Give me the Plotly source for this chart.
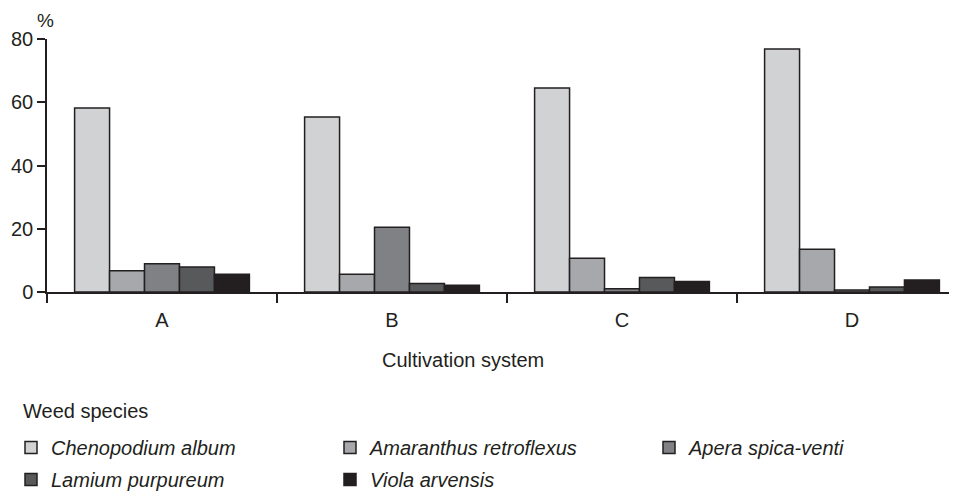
import plotly.graph_objects as go

systems = ["A", "B", "C", "D"]
species = ["Chenopodium album", "Amaranthus retroflexus", "Apera spica-venti",
           "Lamium purpureum", "Viola arvensis"]
values = {
    "Chenopodium album":      [58.2, 55.3, 64.5, 76.8],
    "Amaranthus retroflexus": [6.7, 5.6, 10.7, 13.5],
    "Apera spica-venti":      [8.9, 20.5, 1.0, 0.6],
    "Lamium purpureum":       [7.9, 2.7, 4.6, 1.6],
    "Viola arvensis":         [5.6, 2.1, 3.3, 3.8],
}
colors = ["#d1d2d4", "#a7a8ab", "#808184", "#58595b", "#231f20"]
y_ticks = [0, 20, 40, 60, 80]

INK = "#231f20"
FONT = "Liberation Sans, Arial, sans-serif"
W, H = 957, 492
OFF = 8                      # page body margin in the browser
L = 47 - OFF
T = 39 - OFF
PB = 292 - OFF               # plot bottom in figure px
B = H - PB
R = OFF
plot_w = W - L - R
plot_h = PB - T
group_px = 230

def ax_x(px):
    return (px - OFF - L) / plot_w

def ax_y(py):
    return (PB - (py - OFF)) / plot_h

def cx(px):
    return (px - OFF) / W

def cy(py):
    return 1 - (py - OFF) / H

# legend columns: species index -> legend id
legend_of = ["legend", "legend2", "legend3", "legend", "legend2"]

fig = go.Figure()
for i, sp in enumerate(species):
    fig.add_trace(go.Bar(
        x=systems, y=values[sp], name="<i>" + sp + "</i>",
        marker=dict(color=colors[i], line=dict(color=INK, width=1.5)),
        legend=legend_of[i], legendgroup=sp,
    ))

leg_common = dict(
    orientation="v", xref="container", yref="container",
    xanchor="left", yanchor="top", font=dict(size=20),
    traceorder="grouped", tracegroupgap=3, bgcolor="rgba(0,0,0,0)",
)
leg_top = 428
fig.update_layout(
    width=W, height=H,
    margin=dict(l=L, r=R, t=T, b=B, autoexpand=False),
    paper_bgcolor="white", plot_bgcolor="white",
    barmode="group", bargap=0.24, bargroupgap=0,
    font=dict(family=FONT, size=20, color=INK),
    showlegend=True,
    legend=dict(x=cx(11), y=cy(leg_top), **leg_common),
    legend2=dict(x=cx(11 + 319), y=cy(leg_top), **leg_common),
    legend3=dict(x=cx(11 + 638), y=cy(leg_top), **leg_common),
    annotations=[
        dict(text="%", xref="paper", yref="paper",
             x=ax_x(45), y=ax_y(21),
             showarrow=False, font=dict(size=19), xanchor="center", yanchor="middle"),
        dict(text="Cultivation system", xref="paper", yref="paper",
             x=ax_x(463), y=ax_y(360),
             showarrow=False, font=dict(size=20), xanchor="center", yanchor="middle"),
        dict(text="Weed species", xref="paper", yref="paper",
             x=ax_x(21), y=ax_y(411),
             showarrow=False, font=dict(size=20), xanchor="left", yanchor="middle"),
    ],
)

fig.update_xaxes(
    type="category", range=[-0.5, -0.5 + plot_w / group_px],
    showline=True, linecolor=INK, linewidth=1.5,
    ticks="outside", tickson="boundaries", ticklen=9, tickwidth=1.5, tickcolor=INK,
    ticklabelstandoff=9,
    showgrid=False, zeroline=False, tickfont=dict(size=20),
)
fig.update_yaxes(
    range=[0, 80], tickvals=y_ticks,
    showline=True, linecolor=INK, linewidth=1.5,
    ticks="outside", ticklen=8, tickwidth=1.5, tickcolor=INK,
    showgrid=False, zeroline=False, tickfont=dict(size=20),
)

fig.write_html("out.html")
